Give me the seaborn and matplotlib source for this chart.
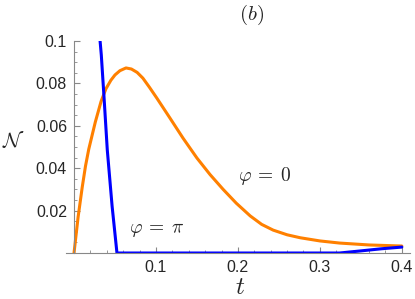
import numpy as np
import pandas as pd
import seaborn as sns
import matplotlib.pyplot as plt
from matplotlib.ticker import MultipleLocator

# values
t_orange = [0.0, 0.005, 0.010, 0.014, 0.018, 0.026, 0.033, 0.039, 0.045, 0.050, 0.056,
            0.0634, 0.070, 0.077, 0.084, 0.092, 0.101, 0.117, 0.133, 0.150, 0.166,
            0.182, 0.198, 0.215, 0.229, 0.243, 0.260, 0.276, 0.300, 0.324, 0.360, 0.400]
n_orange = [0.0, 0.017, 0.031, 0.041, 0.049, 0.0618, 0.0715, 0.0775, 0.0815, 0.0840, 0.0860,
            0.0873, 0.0868, 0.0852, 0.0825, 0.0782, 0.0731, 0.0637, 0.0542, 0.0448, 0.0370,
            0.0300, 0.0235, 0.0175, 0.0135, 0.0108, 0.0086, 0.0072, 0.0057, 0.0047, 0.0038, 0.0033]

t_blue = [0.030, 0.0333, 0.0366, 0.0406, 0.0465, 0.0524, 0.10, 0.20, 0.300, 0.324,
          0.350, 0.375, 0.400]
n_blue = [0.108, 0.0934, 0.0736, 0.0486, 0.022, 0.0, 0.0, 0.0, 0.0, 0.0,
          0.0010, 0.0020, 0.0028]

x_ticks = [0.1, 0.2, 0.3, 0.4]
y_ticks = [0.02, 0.04, 0.06, 0.08, 0.1]
y_ticklabels = ['0.02', '0.04', '0.06', '0.08', '0.1']

df = pd.concat([
    pd.DataFrame({'t': t_orange, 'N': n_orange, 'phi': 'zero'}),
    pd.DataFrame({'t': t_blue, 'N': n_blue, 'phi': 'pi'}),
])

sns.set_style('white')
plt.rcParams['font.family'] = ['Liberation Sans', 'DejaVu Sans']
plt.rcParams['mathtext.fontset'] = 'cm'

fig = plt.figure(figsize=(4.15, 2.99), dpi=100)
ax = fig.add_axes([0.159, 0.1538, 0.829, 0.709])

sns.lineplot(data=df, x='t', y='N', hue='phi', palette={'zero': '#ff8000', 'pi': '#0000ff'},
             linewidth=2.2, sort=False, estimator=None, legend=False, ax=ax)
for line in ax.lines:
    line.set_solid_joinstyle('round')

ax.set_xlim(-0.0098, 0.41)
ax.set_ylim(0, 0.1)

# Mathematica-style axes crossing at the origin
for side in ['top', 'right']:
    ax.spines[side].set_visible(False)
ax.spines['left'].set_position(('data', 0))
for side in ['left', 'bottom']:
    ax.spines[side].set_color('#888888')
    ax.spines[side].set_linewidth(0.8)

ax.set_xticks(x_ticks)
ax.set_xticklabels([str(v) for v in x_ticks])
ax.set_yticks(y_ticks)
ax.set_yticklabels(y_ticklabels)
ax.xaxis.set_minor_locator(MultipleLocator(0.02))
ax.yaxis.set_minor_locator(MultipleLocator(0.005))
ax.tick_params(which='both', direction='in', color='#888888', labelsize=11.5,
               bottom=True, left=True)
ax.tick_params(which='major', length=4, width=0.8)
ax.tick_params(which='minor', length=2, width=0.6)
ax.tick_params(axis='y', pad=5)
ax.tick_params(axis='x', pad=5)

ax.set_xlabel('')
ax.set_ylabel('')
fig.text(13 / 415, 1 - 140 / 299, r'$\mathcal{N}$', fontsize=15, ha='center', va='center')
fig.text(240 / 415, 1 - 287 / 299, r'$t$', fontsize=18, ha='center', va='center')
fig.text(252 / 415, 1 - 15 / 299, r'$(b)$', fontsize=15, ha='center', va='center')
ax.text(0.232, 0.0365, r'$\varphi\:=\:0$', fontsize=14, ha='center', va='center')
ax.text(0.101, 0.0108, r'$\varphi\:=\:\pi$', fontsize=14, ha='center', va='center')

plt.savefig('out.png', dpi=100)
plt.close()
